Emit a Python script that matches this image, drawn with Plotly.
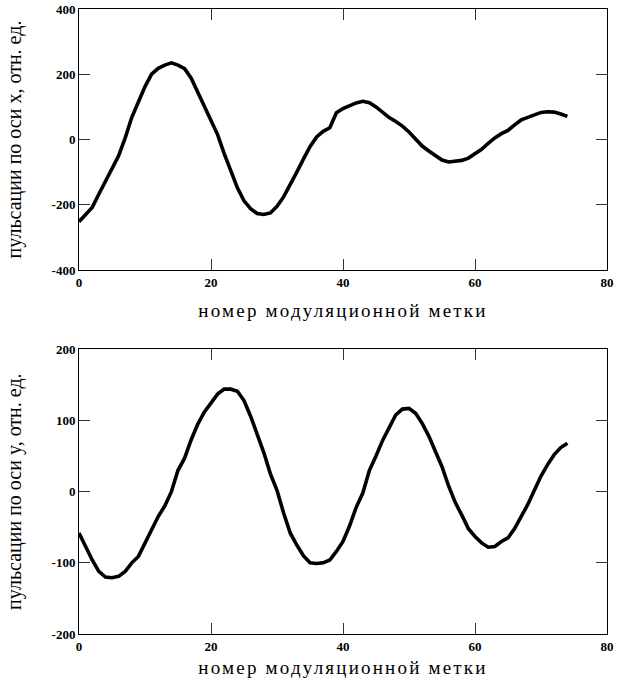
import plotly.graph_objects as go

# --- data ---
x_marks = list(range(0, 75))

pulse_x = [-252, -230, -208, -168, -128, -92, -50, 5, 68, 115,
           162, 200, 218, 228, 235, 228, 217, 188, 145, 105,
           62, 15, -43, -95, -148, -188, -212, -227, -230, -225,
           -205, -176, -140, -100, -60, -22, 8, 25, 36, 82,
           95, 104, 112, 117, 113, 100, 83, 67, 55, 41,
           23, 2, -20, -35, -50, -63, -69, -67, -64, -57,
           -45, -30, -12, 5, 18, 28, 45, 60, 68, 75,
           83, 85, 84, 78, 71]

pulse_y = [-58, -78, -96, -112, -120, -121, -119, -112, -100, -91,
           -72, -52, -35, -20, 0, 30, 47, 73, 95, 112,
           124, 137, 144, 144, 141, 128, 106, 80, 55, 25,
           2, -30, -58, -75, -90, -100, -101, -100, -96, -84,
           -70, -48, -22, -2, 30, 50, 72, 90, 108, 116,
           117, 110, 96, 78, 55, 35, 8, -15, -33, -52,
           -63, -72, -78, -77, -70, -65, -52, -35, -18, 2,
           22, 38, 52, 62, 68]

x_ticks = [0, 20, 40, 60, 80]
y1_ticks = [-400, -200, 0, 200, 400]
y2_ticks = [-200, -100, 0, 100, 200]

x_title = "номер модуляционной метки"
y1_title = "пульсации по оси x, отн. ед."
y2_title = "пульсации по оси y, отн. ед."

FONT = "Liberation Serif, Times New Roman, serif"
tick_font = dict(family=FONT, size=13, color="black", weight="bold")
title_font = dict(family=FONT, size=19, color="black")
ytitle_font = dict(family=FONT, size=20, color="black")

fig = go.Figure()
fig.add_trace(go.Scatter(x=x_marks, y=pulse_x, mode="lines",
                         line=dict(color="black", width=3.6),
                         xaxis="x", yaxis="y", showlegend=False))
fig.add_trace(go.Scatter(x=x_marks, y=pulse_y, mode="lines",
                         line=dict(color="black", width=3.6),
                         xaxis="x2", yaxis="y2", showlegend=False))

def xax(domain_anchor, standoff):
    return dict(range=[0, 80], tickvals=x_ticks, ticks="inside", ticklen=11,
                tickcolor="#333", tickwidth=1, showline=True, linecolor="black",
                linewidth=1, mirror="ticks", showgrid=False, zeroline=False,
                tickfont=tick_font, anchor=domain_anchor, automargin=False,
                title=dict(text=x_title, font=title_font, standoff=standoff))

def yax(rng, vals, domain, anchor, standoff, ttl):
    return dict(range=rng, tickvals=vals, ticktext=[str(v) for v in vals],
                ticks="inside", ticklen=11, tickcolor="#333", tickwidth=1,
                showline=True, linecolor="black", linewidth=1, mirror="ticks",
                showgrid=False, zeroline=False, tickfont=tick_font,
                domain=domain, anchor=anchor, automargin=False,
                title=dict(text=ttl, font=ytitle_font, standoff=standoff))

fig.update_layout(
    width=619, height=684,
    margin=dict(l=79, r=12, t=9, b=50),
    paper_bgcolor="white", plot_bgcolor="white",
    xaxis=xax("y", 15),
    yaxis=yax([-400, 400], y1_ticks, [0.5824, 1.0], "x", 24, y1_title),
    xaxis2=xax("y2", 8),
    yaxis2=yax([-200, 200], y2_ticks, [0.0, 0.4555], "x2", 24, y2_title),
)

post = """
document.querySelectorAll('.g-xtitle text, .g-x2title text').forEach(function(t){
  t.style.letterSpacing = '2.2px';
});
"""
fig.write_html("out.html", post_script=post)
